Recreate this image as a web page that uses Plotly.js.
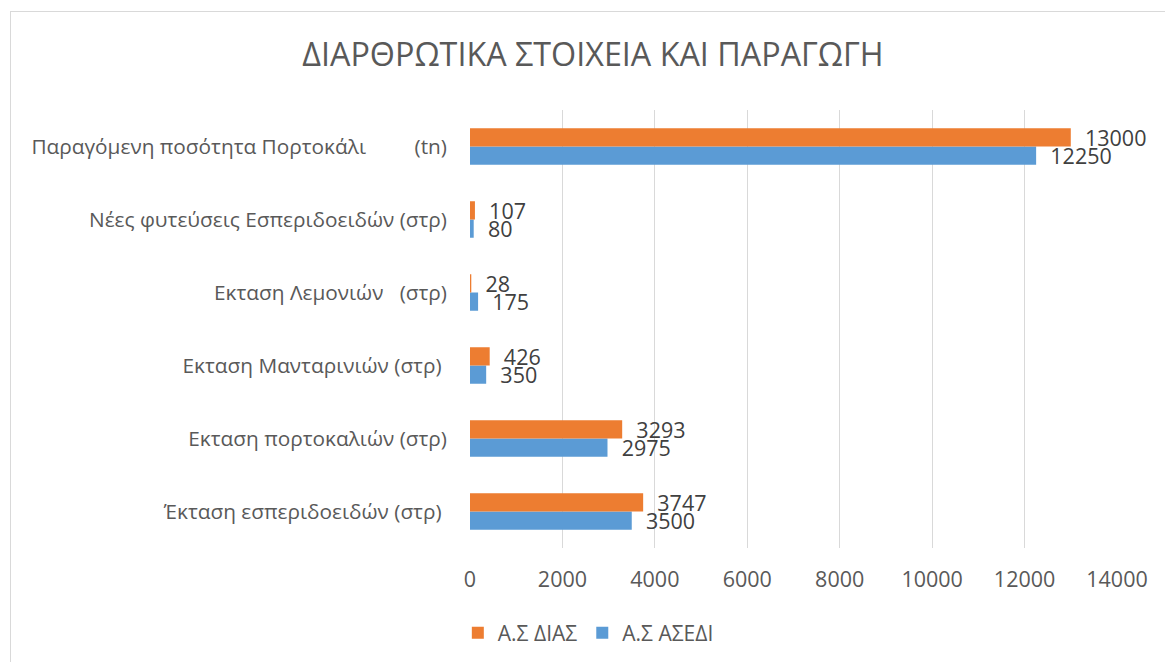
<!DOCTYPE html>
<html>
<head>
<meta charset="utf-8">
<script src="https://cdn.plot.ly/plotly-3.0.1.min.js"></script>
<style>
  html, body { margin: 0; padding: 0; background: #ffffff; }
  #chart { width: 1165px; height: 662px; }
  #frame { position: absolute; left: 10px; top: 11px; width: 1165px; height: 670px;
           border: 1px solid #D9D9D9; pointer-events: none; box-sizing: border-box; }
</style>
</head>
<body>
<div id="chart"></div>
<div id="frame"></div>
<script>
// Categories, bottom to top
const categories = [
  "Έκταση εσπεριδοειδών (στρ)\u00a0",
  "Εκταση πορτοκαλιών (στρ)",
  "Εκταση Μανταρινιών (στρ)\u00a0",
  "Εκταση Λεμονιών \u00a0\u00a0(στρ)",
  "Νέες φυτεύσεις Εσπεριδοειδών (στρ)",
  "Παραγόμενη ποσότητα Πορτοκάλι \u00a0\u00a0\u00a0\u00a0\u00a0\u00a0\u00a0\u00a0(tn)"
];
const seriesNames = ["Α.Σ ΔΙΑΣ", "Α.Σ ΑΣΕΔΙ"];
const diasValues  = [3747, 3293, 426, 28, 107, 13000];
const asediValues = [3500, 2975, 350, 175, 80, 12250];
const xTicks = [0, 2000, 4000, 6000, 8000, 10000, 12000, 14000];

const FONT = "'Open Sans', 'Noto Sans', sans-serif";
const labelText = vals => vals.map(v => "\u00a0\u00a0" + String(v));

const traces = [
  {
    type: "bar", orientation: "h", name: seriesNames[1],
    y: categories, x: asediValues,
    marker: { color: "#5B9BD5" },
    text: labelText(asediValues), textposition: "outside", constraintext: "none",
    textfont: { family: FONT, size: 21.5, color: "#404040" },
    cliponaxis: false, hoverinfo: "skip"
  },
  {
    type: "bar", orientation: "h", name: seriesNames[0],
    y: categories, x: diasValues,
    marker: { color: "#ED7D31" },
    text: labelText(diasValues), textposition: "outside", constraintext: "none",
    textfont: { family: FONT, size: 21.5, color: "#404040" },
    cliponaxis: false, hoverinfo: "skip"
  }
];

const layout = {
  width: 1165, height: 662,
  paper_bgcolor: "#ffffff", plot_bgcolor: "#ffffff",
  font: { family: FONT, color: "#595959" },
  margin: { l: 470, r: 48, t: 110, b: 114, pad: 0 },
  title: {
    text: "ΔΙΑΡΘΡΩΤΙΚΑ ΣΤΟΙΧΕΙΑ ΚΑΙ ΠΑΡΑΓΩΓΗ",
    font: { family: FONT, size: 32.3, color: "#595959" },
    xref: "container", x: 0.509, xanchor: "center",
    yref: "container", y: 1 - 55 / 662, yanchor: "middle"
  },
  barmode: "group", bargap: 0.5, bargroupgap: 0,
  xaxis: {
    range: [0, 14000], tickvals: xTicks, ticktext: xTicks.map(String),
    showgrid: true, gridcolor: "#D9D9D9", gridwidth: 1,
    zeroline: false, showline: false, ticks: "",
    ticklabelstandoff: 16,
    tickfont: { family: FONT, size: 21.5, color: "#595959" }
  },
  yaxis: {
    type: "category", showgrid: false, zeroline: false, showline: false, ticks: "",
    ticklabelstandoff: 22,
    tickfont: { family: FONT, size: 20.8, color: "#595959" }
  },
  showlegend: true,
  legend: {
    orientation: "h", traceorder: "reversed",
    xref: "container", x: 0.505, xanchor: "center",
    yref: "container", y: 1 - 633 / 662, yanchor: "middle",
    font: { family: FONT, size: 21, color: "#595959" },
    itemclick: false, itemdoubleclick: false
  }
};

Plotly.newPlot("chart", traces, layout, { staticPlot: true, displayModeBar: false });
</script>
</body>
</html>
